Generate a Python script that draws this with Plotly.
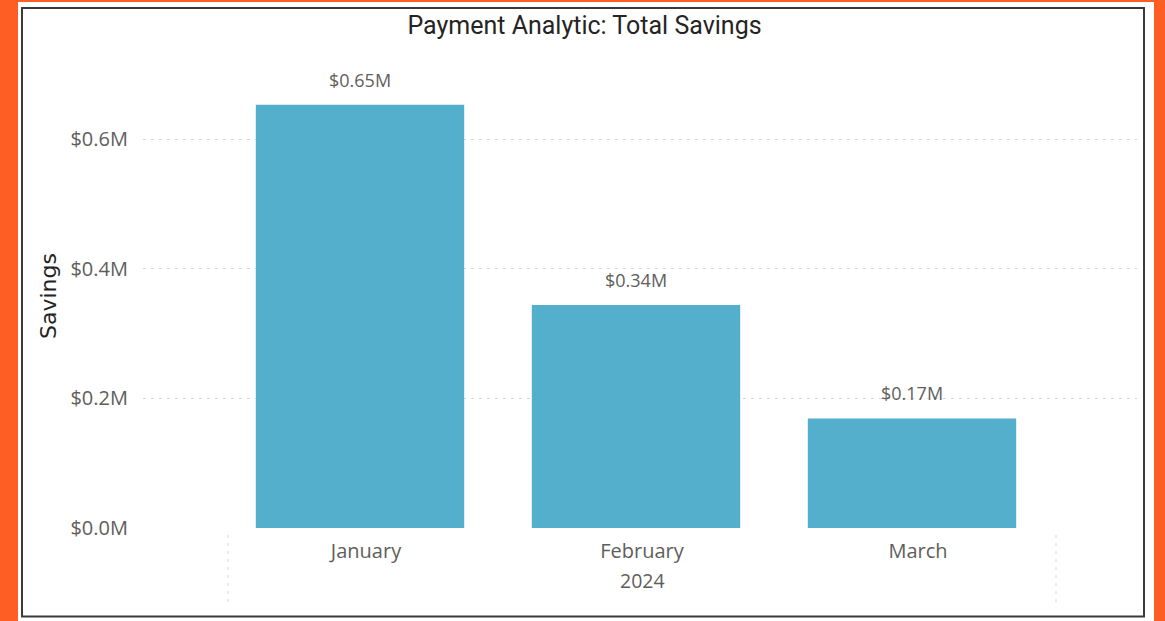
import plotly.graph_objects as go

# ---- data ----
months = ["January", "February", "March"]
year_label = "2024"
savings_m = [0.653, 0.344, 0.169]          # millions of dollars
y_ticks = [0.0, 0.2, 0.4, 0.6]
y_tick_text = ["$0.0M", "$0.2M", "$0.4M", "$0.6M"]
title_text = "Payment Analytic: Total Savings"
y_title = "Savings"

# ---- layout geometry (pixels) ----
W, H = 1165, 621
L, R, T, B = 143, 28, 48, 93
PW, PH = W - L - R, H - T - B
STEP = 276.0          # pixels per category
SHIFT = 6             # label / divider offset in pixels

def px(x):
    return (x - L) / PW

def py(y):
    return (H - B - y) / PH

ORANGE = "#FE5E24"
BAR = "#53AFCB"
GRID = "#D5D5D5"
TICK = "#605E5C"
DARK = "#252423"

n = len(months)
first_center = 360
xr = [-(first_center - L) / STEP, -(first_center - L) / STEP + PW / STEP]
yr = [0, (H - B - T) / 648.3]

fig = go.Figure()
fig.add_trace(go.Bar(
    x=months, y=savings_m, marker=dict(color=BAR, line=dict(width=0)),
    width=0.755, hoverinfo="x+y", showlegend=False,
))

annotations = []
for m, v in zip(months, savings_m):
    annotations.append(dict(
        x=m, y=v, xref="x", yref="y", text=f"${v:.2f}M", showarrow=False,
        yanchor="middle", yshift=25,
        font=dict(family="Open Sans", size=18, color=TICK),
    ))
annotations.append(dict(
    x=months[n // 2], y=py(580), xref="x", yref="paper", text=year_label,
    showarrow=False, yanchor="middle", xshift=SHIFT,
    font=dict(family="Open Sans", size=19.5, color=TICK),
))
annotations.append(dict(
    x=px(48), y=py(296), xref="paper", yref="paper", text=y_title,
    showarrow=False, textangle=-90, xanchor="center", yanchor="middle",
    font=dict(family="DejaVu Sans", size=22, color=DARK),
))

shapes = [
    dict(type="rect", xref="paper", yref="paper", x0=px(18), x1=px(1154),
         y0=py(621), y1=py(2), fillcolor="white", line=dict(width=0), layer="below"),
    dict(type="rect", xref="paper", yref="paper", x0=px(22), x1=px(1144),
         y0=py(616.5), y1=py(8), fillcolor="rgba(0,0,0,0)",
         line=dict(color="#3A3A3A", width=2), layer="above"),
]
for xb in (-0.5, n - 0.5):
    xs = xb + SHIFT / STEP
    shapes.append(dict(type="line", xref="x", yref="paper", x0=xs, x1=xs,
                       y0=py(602), y1=py(532),
                       line=dict(color=GRID, width=1, dash="3px,5px")))

fig.update_layout(
    width=W, height=H,
    margin=dict(l=L, r=R, t=T, b=B, pad=0),
    paper_bgcolor=ORANGE, plot_bgcolor="rgba(0,0,0,0)",
    title=dict(text=title_text, x=584.5 / W, xanchor="center",
               y=1 - 25 / H, yanchor="middle",
               font=dict(family="Roboto", size=25, color=DARK)),
    annotations=annotations, shapes=shapes,
    xaxis=dict(range=xr, showgrid=False, zeroline=False, showline=False,
               ticks="", tickfont=dict(family="Open Sans", size=20, color=TICK),
               ticklabelshift=SHIFT, ticklabelstandoff=9, fixedrange=True),
    yaxis=dict(range=yr, tickvals=y_ticks, ticktext=y_tick_text,
               showgrid=True, gridcolor=GRID, griddash="3px,5px", gridwidth=1,
               zeroline=False, showline=False, ticks="",
               tickfont=dict(family="Open Sans", size=20, color=TICK),
               ticklabelstandoff=14, fixedrange=True),
)

fig.write_html("out.html")
